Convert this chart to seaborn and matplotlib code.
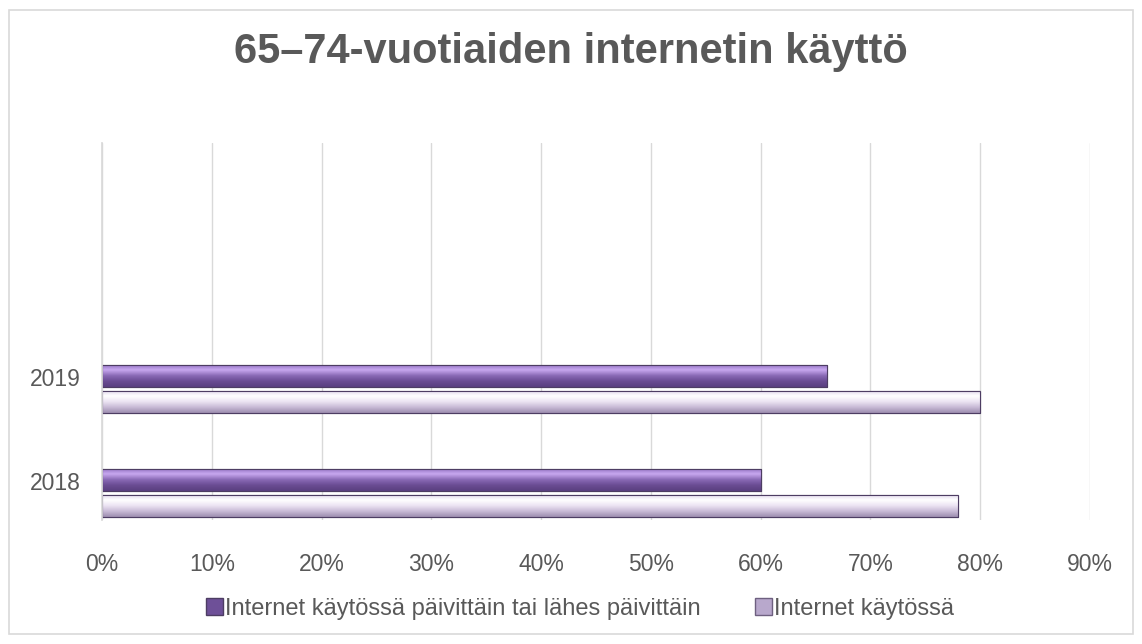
import numpy as np
import pandas as pd
import matplotlib
matplotlib.use('Agg')
import matplotlib.pyplot as plt
import matplotlib.colors as mcolors
import matplotlib.transforms as mtransforms
from matplotlib.patches import Rectangle
import seaborn as sns

# DATA
years = ['2019', '2018']
series = ['Internet käytössä päivittäin tai lähes päivittäin', 'Internet käytössä']
daily = [66, 60]
users = [80, 78]
ticks = [0, 10, 20, 30, 40, 50, 60, 70, 80, 90]

df = pd.DataFrame({
    'year': years * 2,
    'series': [series[0]] * 2 + [series[1]] * 2,
    'value': daily + users,
})

sns.set_theme(style='white')
plt.rcParams['font.family'] = ['Liberation Sans', 'DejaVu Sans']
grey = '#595959'

fig = plt.figure(figsize=(11.42, 6.44), dpi=100)
ax = fig.add_axes([0.0893, 0.1925, 0.8652, 0.5855])

palette = {series[0]: '#6e5098', series[1]: '#c8bcd6'}
sns.barplot(data=df, x='value', y='year', hue='series', order=years, hue_order=series,
            palette=palette, width=0.5, gap=0.15, orient='h', ax=ax,
            edgecolor='#4d3d63', linewidth=0.8, legend=False)

# gradients on the bars, like the office 3-d style
grads = {
    series[0]: ['#9070c0', '#c8a8f0', '#8a6ab6', '#6a4c93', '#5a4080'],
    series[1]: ['#e0d6ec', '#ffffff', '#ece4f3', '#c8bad6', '#9e8eb0'],
}
for cont, name in zip(ax.containers, series):
    cmap = mcolors.LinearSegmentedColormap.from_list(name, grads[name])
    for p in cont.patches:
        x0, y0 = p.get_x(), p.get_y()
        w, h = p.get_width(), p.get_height()
        img = ax.imshow(np.linspace(0, 1, 64).reshape(-1, 1), cmap=cmap, aspect='auto',
                        extent=[x0, x0 + w, y0 + h, y0], origin='upper', zorder=p.get_zorder() + 0.1,
                        interpolation='bilinear')
        img.set_clip_path(p)
        ax.add_patch(Rectangle((x0, y0), w, h, fill=False, edgecolor='#4d3d63',
                               linewidth=0.8, zorder=p.get_zorder() + 0.2))

ax.set_xlim(0, 90)
ax.set_ylim(1.26, -2.37)
ax.set_xticks(ticks)
ax.set_xticklabels([f'{t}%' for t in ticks])
ax.set_xlabel('')
ax.set_ylabel('')
ax.grid(axis='x', color='#d9d9d9', linewidth=1)
ax.set_axisbelow(True)
for s in ['top', 'right', 'bottom']:
    ax.spines[s].set_visible(False)
ax.spines['left'].set_color('#d9d9d9')
ax.tick_params(axis='x', length=0, pad=24, labelsize=16.5, labelcolor=grey)
ax.tick_params(axis='y', length=0, pad=15, labelsize=16.5, labelcolor=grey)

# excel puts the year labels a bit higher than the category centre
shift = mtransforms.ScaledTranslation(0, 12 / 100, fig.dpi_scale_trans)
for lbl in ax.get_yticklabels():
    lbl.set_transform(lbl.get_transform() + shift)

fig.suptitle('65–74-vuotiaiden internetin käyttö', x=0.5, y=1 - 52 / 644, va='center',
             fontsize=30, fontweight='bold', color=grey)

handles = [Rectangle((0, 0), 1, 1, facecolor='#6e5098', edgecolor='#4d3d63'),
           Rectangle((0, 0), 1, 1, facecolor='#b8a8cc', edgecolor='#6e6080')]
fig.legend(handles, series, loc='center', bbox_to_anchor=(580 / 1142, 1 - 609 / 644), ncol=2,
           frameon=False, fontsize=17, labelcolor=grey, handlelength=0.72, handleheight=0.72,
           handletextpad=0.1, columnspacing=2.3)

fig.patches.append(Rectangle((9 / 1142, 10 / 644), 1124 / 1142, 624 / 644, transform=fig.transFigure,
                             fill=False, edgecolor='#d9d9d9', linewidth=1.2))

fig.savefig('out.png', dpi=100, facecolor='white')
